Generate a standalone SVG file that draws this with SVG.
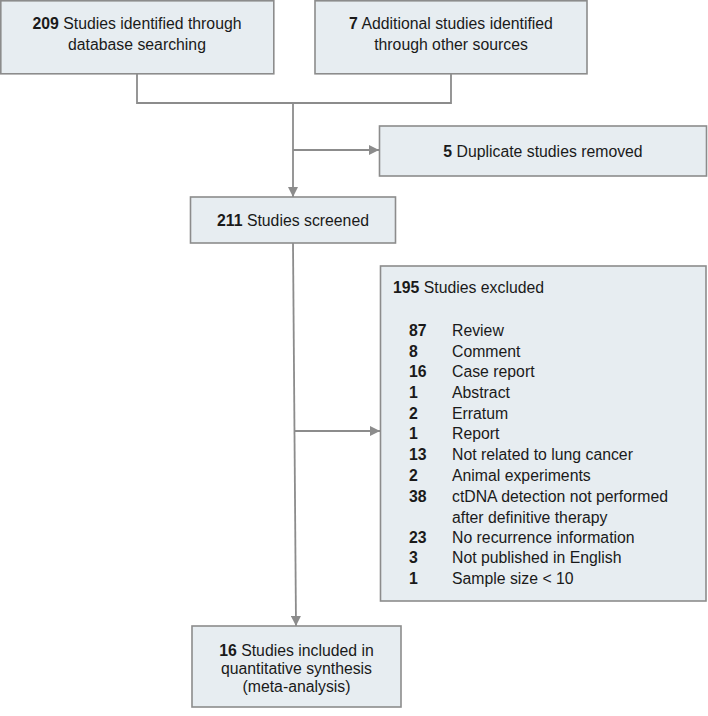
<svg xmlns="http://www.w3.org/2000/svg" width="708" height="716" viewBox="0 0 708 716">
<defs>
<style>
.box{fill:#e7edf1;stroke:#8c8c8c;stroke-width:1.6}
.t{font-family:"Liberation Sans",Arial,sans-serif;font-size:15.8px;fill:#1a1a1a}
.c{text-anchor:middle}
.b{font-weight:bold}
.ln{fill:none;stroke:#8c8c8c;stroke-width:1.8}
</style>
<marker id="ah" viewBox="0 0 10 10" refX="10" refY="5" markerWidth="10" markerHeight="10" markerUnits="userSpaceOnUse" orient="auto">
<path d="M0,0 L10,5 L0,10 Z" fill="#8c8c8c"/>
</marker>
</defs>
<rect width="708" height="716" fill="#ffffff"/>
<g id="connectors">
<polyline class="ln" points="137,74 137,103 451,103 451,74"/>
<line class="ln" x1="293" y1="103" x2="293" y2="197" marker-end="url(#ah)"/>
<line class="ln" x1="293" y1="150" x2="379" y2="150" marker-end="url(#ah)"/>
<line class="ln" x1="293" y1="243" x2="296" y2="626" marker-end="url(#ah)"/>
<line class="ln" x1="294" y1="431" x2="380" y2="431" marker-end="url(#ah)"/>
</g>
<g id="identified">
<rect class="box" x="0.8" y="0.8" width="273" height="73"/>
<text class="t c" x="137" y="29"><tspan class="b">209</tspan> Studies identified through</text>
<text class="t c" x="137" y="50">database searching</text>
</g>
<g id="additional">
<rect class="box" x="315" y="0.8" width="272" height="73"/>
<text class="t c" x="451" y="29"><tspan class="b">7</tspan> Additional studies identified</text>
<text class="t c" x="451" y="50">through other sources</text>
</g>
<g id="duplicates">
<rect class="box" x="379.5" y="126" width="327" height="50"/>
<text class="t c" x="543" y="156.5"><tspan class="b">5</tspan> Duplicate studies removed</text>
</g>
<g id="screened">
<rect class="box" x="190.5" y="197" width="205" height="46"/>
<text class="t c" x="293" y="225.5"><tspan class="b">211</tspan> Studies screened</text>
</g>
<g id="excluded">
<rect class="box" x="380.5" y="266" width="325.5" height="335"/>
<text class="t" x="393" y="293"><tspan class="b">195</tspan> Studies excluded</text>
<g class="t">
<text x="409" y="336" class="b">87</text><text x="452" y="336">Review</text>
<text x="409" y="357" class="b">8</text><text x="452" y="357">Comment</text>
<text x="409" y="377" class="b">16</text><text x="452" y="377">Case report</text>
<text x="409" y="398" class="b">1</text><text x="452" y="398">Abstract</text>
<text x="409" y="419" class="b">2</text><text x="452" y="419">Erratum</text>
<text x="409" y="439" class="b">1</text><text x="452" y="439">Report</text>
<text x="409" y="460" class="b">13</text><text x="452" y="460">Not related to lung cancer</text>
<text x="409" y="481" class="b">2</text><text x="452" y="481">Animal experiments</text>
<text x="409" y="502" class="b">38</text><text x="452" y="502">ctDNA detection not performed</text>
<text x="452" y="523">after definitive therapy</text>
<text x="409" y="543" class="b">23</text><text x="452" y="543">No recurrence information</text>
<text x="409" y="563" class="b">3</text><text x="452" y="563">Not published in English</text>
<text x="409" y="584" class="b">1</text><text x="452" y="584">Sample size &lt; 10</text>
</g>
</g>
<g id="included">
<rect class="box" x="192" y="626" width="209" height="81"/>
<text class="t c" x="296.5" y="656"><tspan class="b">16</tspan> Studies included in</text>
<text class="t c" x="296.5" y="674">quantitative synthesis</text>
<text class="t c" x="296.5" y="692">(meta-analysis)</text>
</g>
</svg>
